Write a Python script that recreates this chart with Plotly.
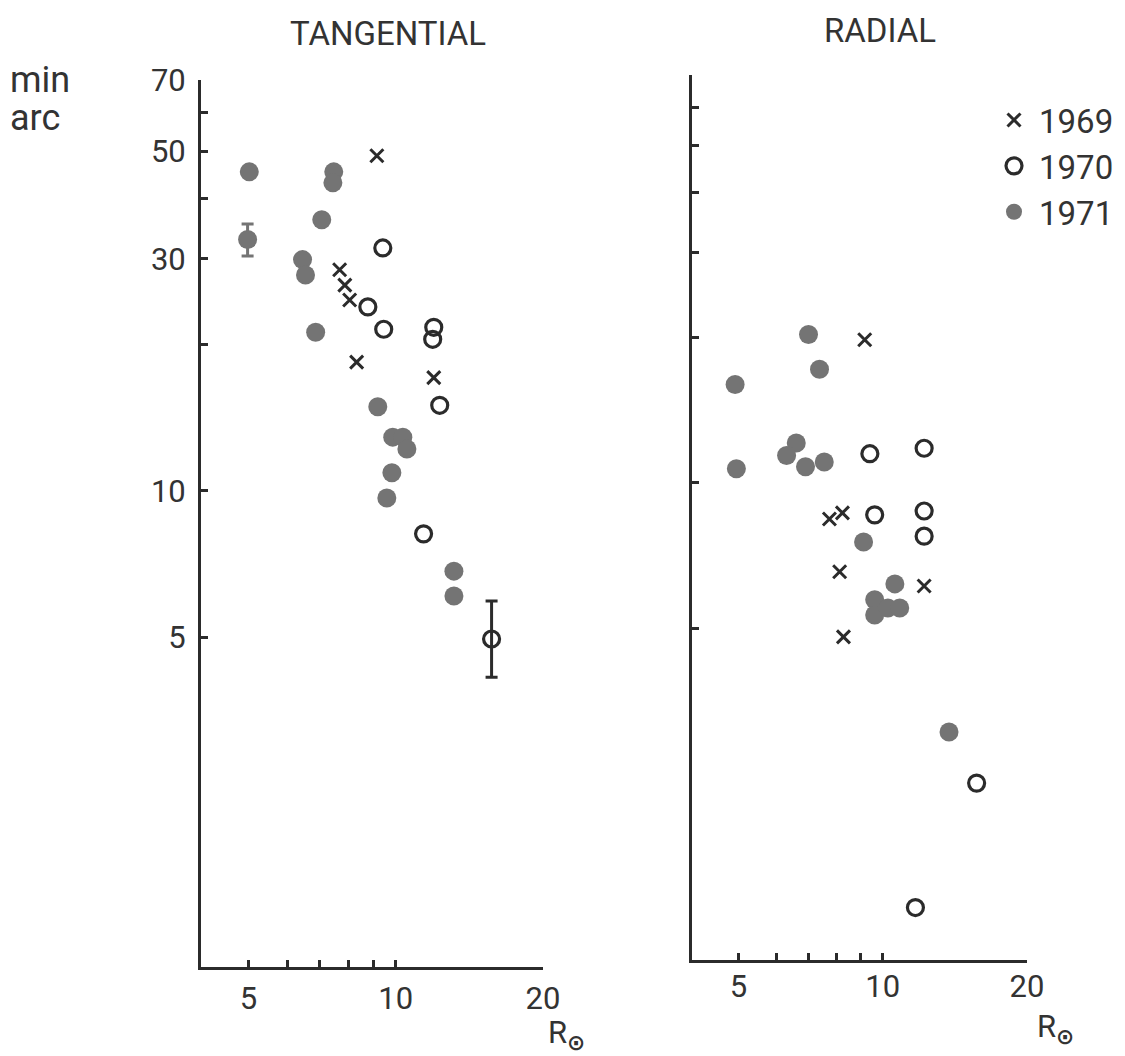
import plotly.graph_objects as go

# ---- data: angular size (min arc) vs heliocentric distance (solar radii) ----
# TANGENTIAL panel
tang_1969_r = [9.15, 7.68, 7.87, 8.05, 8.32, 11.96]
tang_1969_v = [48.9, 28.5, 26.5, 24.7, 18.4, 17.1]

tang_1970_r = [9.41, 8.77, 9.45, 11.96, 11.9, 12.3, 11.4]
tang_1970_v = [31.6, 23.9, 21.5, 21.7, 20.5, 15.0, 8.16]
tang_1970_err_r = [15.7]
tang_1970_err_v = [4.96]
tang_1970_err_hi = [5.94]
tang_1970_err_lo = [4.14]

tang_1971_r = [5.02, 7.47, 7.44, 7.06, 6.45, 6.54, 6.86, 9.19, 9.86, 10.34,
               10.54, 9.82, 9.59, 13.15, 13.15]
tang_1971_v = [45.3, 45.3, 43.0, 36.1, 29.9, 27.8, 21.2, 14.9, 12.9, 12.9,
               12.2, 10.9, 9.67, 6.84, 6.08]
tang_1971_err_r = [4.98]
tang_1971_err_v = [32.9]
tang_1971_err_hi = [35.4]
tang_1971_err_lo = [30.4]

# RADIAL panel
rad_1969_r = [9.17, 7.74, 8.24, 8.13, 12.2, 8.28]
rad_1969_v = [19.8, 8.42, 8.67, 6.55, 6.12, 4.8]

rad_1970_r = [9.4, 12.2, 9.62, 12.2, 12.2, 15.7, 11.7]
rad_1970_v = [11.5, 11.8, 8.59, 8.75, 7.76, 2.39, 1.32]

rad_1971_r = [7.0, 7.38, 4.92, 4.95, 6.6, 6.3, 6.9, 7.55, 9.12, 10.6,
              9.62, 9.62, 10.25, 10.85, 13.75]
rad_1971_v = [20.3, 17.2, 16.0, 10.7, 12.1, 11.4, 10.8, 11.05, 7.55, 6.18,
              5.73, 5.33, 5.51, 5.51, 3.05]

# axis ticks (labelled majors, unlabelled minors)
x_major = [5, 10, 20]
x_minor = [6, 7, 8, 9]
y_major = [5, 10, 30, 50, 70]
y_minor = [20, 40, 60]

# ---- styling ----
W, H = 1125, 1056
INK = "#2b2b2b"
GREY = "#747474"
FONT = "Roboto, Liberation Sans, DejaVu Sans, sans-serif"

sty_1969 = dict(symbol="x-thin", size=13, color=INK, line=dict(width=3, color=INK))
sty_1970 = dict(symbol="circle-open", size=16, color=INK, line=dict(width=3.2, color=INK))
sty_1971 = dict(symbol="circle", size=19, color=GREY, line=dict(width=0))


def px_x(a, b):
    return [a / W, b / W]


def px_y(top, bottom):
    return [1 - bottom / H, 1 - top / H]


def err_bar(vals, hi, lo, color):
    return dict(type="data", symmetric=False,
                array=[h - v for h, v in zip(hi, vals)],
                arrayminus=[v - l for l, v in zip(lo, vals)],
                color=color, thickness=3, width=6)


fig = go.Figure()

# left panel (tangential)
fig.add_trace(go.Scatter(x=tang_1971_r, y=tang_1971_v, mode="markers", marker=sty_1971,
                         showlegend=False, xaxis="x", yaxis="y"))
fig.add_trace(go.Scatter(x=tang_1971_err_r, y=tang_1971_err_v, mode="markers", marker=sty_1971,
                         error_y=err_bar(tang_1971_err_v, tang_1971_err_hi, tang_1971_err_lo, GREY),
                         showlegend=False, xaxis="x", yaxis="y"))
fig.add_trace(go.Scatter(x=tang_1970_r, y=tang_1970_v, mode="markers", marker=sty_1970,
                         showlegend=False, xaxis="x", yaxis="y"))
fig.add_trace(go.Scatter(x=tang_1970_err_r, y=tang_1970_err_v, mode="markers", marker=sty_1970,
                         error_y=err_bar(tang_1970_err_v, tang_1970_err_hi, tang_1970_err_lo, INK),
                         showlegend=False, xaxis="x", yaxis="y"))
fig.add_trace(go.Scatter(x=tang_1969_r, y=tang_1969_v, mode="markers", marker=sty_1969,
                         showlegend=False, xaxis="x", yaxis="y"))

# right panel (radial) - these carry the legend entries
fig.add_trace(go.Scatter(x=rad_1969_r, y=rad_1969_v, mode="markers", marker=sty_1969,
                         name="1969", xaxis="x2", yaxis="y2"))
fig.add_trace(go.Scatter(x=rad_1970_r, y=rad_1970_v, mode="markers", marker=sty_1970,
                         name="1970", xaxis="x2", yaxis="y2"))
fig.add_trace(go.Scatter(x=rad_1971_r, y=rad_1971_v, mode="markers", marker=sty_1971,
                         name="1971", xaxis="x2", yaxis="y2"))

axis_common = dict(type="log", showline=True, linecolor=INK, linewidth=3,
                   showgrid=False, zeroline=False, ticks="inside", ticklen=7,
                   tickwidth=2.5, tickcolor=INK, mirror=False, automargin=False,
                   tickangle=0,
                   tickfont=dict(family=FONT, size=31, color="#333"))


def minor_ticks(vals):
    return dict(tickvals=vals, ticks="inside", ticklen=7, tickwidth=2.5,
                tickcolor=INK, showgrid=False)


x_range = [0.602, 1.301]   # log10(4) .. log10(20)

fig.update_layout(
    template="none",
    width=W, height=H,
    margin=dict(l=0, r=0, t=0, b=0, pad=0, autoexpand=False),
    paper_bgcolor="white", plot_bgcolor="white",
    font=dict(family=FONT, color="#333"),
    xaxis=dict(axis_common, domain=px_x(201, 543), range=x_range, anchor="y",
               tickvals=x_major, ticktext=[str(v) for v in x_major],
               minor=minor_ticks(x_minor), ticklabelstandoff=2),
    yaxis=dict(axis_common, domain=px_y(80, 967), range=[0.021, 1.845], anchor="x",
               tickvals=y_major, ticktext=[str(v) for v in y_major],
               minor=minor_ticks(y_minor), ticklabelstandoff=6),
    xaxis2=dict(axis_common, domain=px_x(692, 1027), range=x_range, anchor="y2",
                tickvals=x_major, ticktext=[str(v) for v in x_major],
                minor=minor_ticks(x_minor), ticklabelstandoff=-3),
    yaxis2=dict(axis_common, domain=px_y(75, 960), range=[0.012, 1.845], anchor="x2",
                tickvals=y_major, minor=minor_ticks(y_minor), showticklabels=False),
    legend=dict(x=989 / W, y=1 - 92 / H, xanchor="left", yanchor="top",
                bgcolor="rgba(0,0,0,0)", font=dict(family=FONT, size=33, color="#333"),
                itemsizing="trace", itemwidth=40),
    showlegend=True,
)

ann = dict(xref="paper", yref="paper", showarrow=False, font=dict(family=FONT, size=31, color="#333"))
fig.add_annotation(ann, x=388 / W, y=1 - 33 / H, text="TANGENTIAL", xanchor="center", yanchor="middle",
                   font=dict(family=FONT, size=33, color="#333"))
fig.add_annotation(ann, x=880 / W, y=1 - 31 / H, text="RADIAL", xanchor="center", yanchor="middle",
                   font=dict(family=FONT, size=33, color="#333"))
fig.add_annotation(ann, x=8 / W, y=1 - 80 / H, text="min", xanchor="left", yanchor="middle",
                   font=dict(family=FONT, size=36, color="#333"))
fig.add_annotation(ann, x=8 / W, y=1 - 118 / H, text="arc", xanchor="left", yanchor="middle",
                   font=dict(family=FONT, size=36, color="#333"))
fig.add_annotation(ann, x=546 / W, y=1 - 1034 / H, text="R<sub><b>⊙</b></sub>", xanchor="left", yanchor="middle")
fig.add_annotation(ann, x=1035 / W, y=1 - 1028 / H, text="R<sub><b>⊙</b></sub>", xanchor="left", yanchor="middle")

fig.write_html("out.html")
